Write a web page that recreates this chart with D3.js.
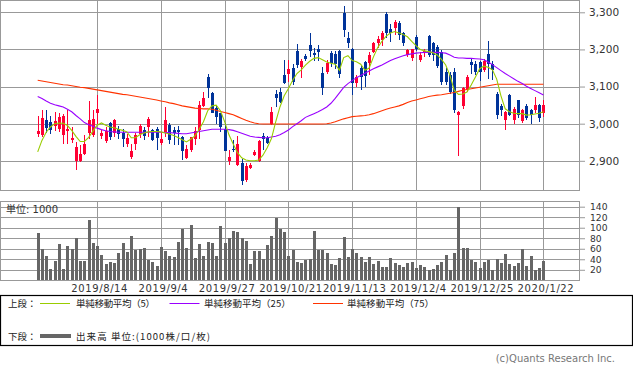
<!DOCTYPE html>
<html><head><meta charset="utf-8">
<script src="https://cdn.jsdelivr.net/npm/d3@7"></script>
<style>
html,body{margin:0;padding:0;background:#fff;}
svg{display:block;}
</style></head><body>
<svg id="c" width="633" height="373"></svg>
<script>
const openP = [
2972,2969,3009,3004,2995,2985,2969,2980,2957,2900,
2900,2918,2975,2969,3029,2966,2954,3002,2975,2987,
2975,2946,2909,2945,2971,2982,2991,2984,2985,2948,
2975,2996,2982,2983,2963,2907,2929,2958,2983,3047,
3126,3082,3041,3028,2987,2899,2933,2889,2895,2847,
2881,2916,2899,2966,2962,2998,3081,3086,3131,3134,
3149,3197,3153,3182,3212,3190,3200,3137,3140,3190,
3188,3195,3297,3230,3200,3110,3149,3167,3163,3194,
3217,3225,3295,3254,3257,3272,3243,3185,3176,3234,
3172,3190,3236,3216,3207,3194,3140,3130,3140,3023,
3047,3090,3167,3162,3165,3144,3189,3162,3081,3047,
3009,3078,3010,3063,3008,3047,3036,3036,3050,3029];
const highP = [
3020,3036,3036,3020,3031,3030,3025,3036,2990,2951,
2942,2969,3060,3036,3076,2983,2990,3004,3012,2993,
2987,2971,2946,2975,3000,2991,3018,2987,2990,2978,
3046,3001,2991,2994,2967,2942,2965,2992,3062,3086,
3134,3086,3050,3030,3001,2929,2956,2967,2905,2893,
2893,2930,2956,2974,2968,3046,3091,3095,3172,3171,
3160,3215,3173,3187,3243,3203,3212,3154,3171,3196,
3195,3198,3317,3248,3205,3130,3158,3170,3192,3221,
3235,3250,3300,3268,3280,3277,3248,3200,3202,3240,
3192,3200,3240,3220,3212,3198,3150,3140,3150,3035,
3098,3131,3176,3168,3170,3175,3223,3170,3085,3052,
3034,3080,3046,3065,3040,3052,3040,3072,3052,3065];
const lowP = [
2964,2964,2975,2972,2980,2978,2946,2946,2948,2875,
2897,2915,2958,2963,3000,2960,2948,2955,2965,2960,
2936,2937,2906,2929,2962,2955,2964,2954,2930,2942,
2965,2945,2943,2943,2902,2904,2925,2942,2960,3046,
3068,3028,2999,2978,2927,2889,2925,2886,2835,2844,
2877,2912,2898,2929,2946,2996,3046,3057,3108,3113,
3105,3150,3124,3168,3180,3170,3170,3077,3135,3152,
3148,3124,3234,3203,3077,3100,3091,3099,3130,3190,
3205,3210,3232,3221,3240,3225,3210,3180,3170,3195,
3165,3180,3180,3170,3150,3105,3105,3080,3030,2914,
3040,3085,3135,3130,3115,3140,3120,3117,3012,3020,
2982,3020,3000,3015,3002,3010,3000,3030,3005,3018];
const closeP = [
2980,3014,2988,2982,3008,3018,3020,2986,2962,2936,
2918,2946,3010,3012,3040,2975,2980,2964,3009,2971,
2959,2962,2927,2969,2993,2966,3013,2957,2962,2959,
3010,2956,2975,2978,2927,2931,2963,2981,3050,3068,
3095,3028,3017,2992,2927,2909,2930,2945,2846,2886,
2888,2925,2952,2958,2949,3032,3068,3059,3110,3146,
3113,3158,3169,3173,3195,3186,3194,3095,3164,3163,
3160,3135,3252,3217,3110,3127,3127,3128,3185,3218,
3227,3243,3243,3243,3275,3240,3218,3198,3200,3200,
3185,3196,3185,3185,3155,3113,3113,3086,3036,3031,
3095,3126,3158,3140,3140,3170,3162,3144,3023,3036,
3032,3023,3040,3023,3036,3016,3023,3050,3014,3050];
const volume = [
90,60,46,22,37,69,22,65,60,80,
37,37,115,71,65,48,31,35,33,52,
71,54,84,58,60,62,39,35,27,63,
56,46,44,73,98,62,105,42,69,46,
73,71,46,103,71,80,94,92,80,75,
31,56,56,40,67,84,118,98,92,46,
58,35,33,39,40,94,58,58,52,31,
29,42,82,44,60,52,44,35,44,31,
37,25,25,42,33,29,25,33,35,23,
29,25,19,21,29,35,48,19,52,140,
62,62,39,35,23,35,39,19,40,33,
50,31,27,33,60,27,46,19,23,37];
const ma5 = [
2924,2955,2977,2991,3000,3002,3001,2995,2982,2966,
2952,2952,2963,2980,2996,3002,2996,2991,2989,2985,
2982,2978,2962,2962,2970,2975,2978,2979,2979,2978,
2975,2972,2968,2963,2957,2951,2958,2967,2985,3005,
3035,3048,3050,3035,3005,2970,2945,2922,2908,2902,
2900,2900,2902,2915,2935,2960,3005,3045,3075,3095,
3117,3135,3145,3158,3168,3176,3178,3172,3166,3163,
3160,3144,3178,3183,3170,3167,3160,3144,3150,3180,
3205,3222,3236,3244,3248,3244,3240,3234,3222,3210,
3200,3196,3194,3191,3185,3173,3158,3130,3090,3079,
3080,3085,3104,3126,3148,3155,3152,3145,3120,3075,
3040,3032,3028,3027,3027,3023,3024,3026,3028,3032];
const ma25 = [
3073,3068,3061,3055,3051,3048,3045,3039,3032,3022,
3013,3003,2997,2993,2988,2984,2981,2979,2978,2977,
2977,2977,2977,2977,2977,2977,2977,2977,2977,2977,
2976,2976,2975,2974,2973,2973,2975,2977,2979,2981,
2983,2985,2985,2985,2985,2984,2982,2978,2974,2970,
2966,2964,2963,2962,2962,2964,2966,2970,2976,2983,
2992,3000,3008,3017,3022,3027,3032,3038,3045,3055,
3068,3083,3098,3108,3116,3124,3130,3136,3142,3148,
3153,3158,3164,3170,3175,3179,3183,3186,3188,3190,
3191,3192,3192,3192,3192,3191,3190,3185,3179,3177,
3177,3176,3176,3175,3174,3172,3166,3159,3151,3143,
3135,3128,3121,3114,3108,3101,3095,3089,3083,3077];
const ma75 = [
3117,3115,3113,3111,3109,3107,3105,3104,3102,3100,
3098,3097,3095,3093,3091,3089,3087,3085,3083,3081,
3079,3078,3076,3074,3072,3070,3068,3066,3064,3061,
3059,3056,3054,3051,3048,3046,3044,3042,3041,3040,
3040,3039,3036,3033,3030,3027,3024,3019,3014,3009,
3005,3002,3000,2999,2999,2999,2999,2999,2999,2999,
2999,2999,2999,2999,2999,2999,2999,2999,3000,3002,
3005,3009,3013,3016,3019,3020,3021,3022,3024,3027,
3031,3035,3039,3042,3045,3048,3052,3057,3061,3064,
3067,3070,3073,3075,3077,3078,3080,3082,3084,3087,
3090,3092,3094,3096,3098,3100,3102,3104,3106,3106,
3106,3106,3106,3106,3106,3106,3106,3106,3106,3106];
const tickIdx = [14,29,44,59,74,89,104,119];
const tickLabels = ["2019/8/14","2019/9/4","2019/9/27","2019/10/21","2019/11/13","2019/12/4","2019/12/25","2020/1/22"];
const priceTicks = [2900,3000,3100,3200,3300];
const volTicks = [20,40,60,80,100,120,140];
const maNames = ["単純移動平均（5）","単純移動平均（25）","単純移動平均（75）"];
const maColors = ["#99cc00","#9a00ff","#ff3300"];

const UP = "#ff0033", DOWN = "#003399", GRID = "#999";
const svg = d3.select("#c");
const x = d3.scaleLinear().domain([0,119]).range([37.7,543.45]);
const y = d3.scaleLinear().domain([2900,3300]).range([160.8,12.3]);
const yv = d3.scaleLinear().domain([0,140]).range([280.3,206.7]);
const px = v => Math.round(v) + 0.5;

// ---------- top panel frame + grid
const topG = svg.append("g");
topG.append("rect").attr("x",0.5).attr("y",0.5).attr("width",579).attr("height",190)
  .attr("fill","none").attr("stroke",GRID);
topG.selectAll("line.h").data(priceTicks).join("line")
  .attr("x1",0).attr("x2",580).attr("y1",d=>px(y(d))).attr("y2",d=>px(y(d)))
  .attr("stroke",GRID).attr("shape-rendering","crispEdges");
topG.selectAll("line.v").data(tickIdx).join("line")
  .attr("x1",d=>px(x(d))).attr("x2",d=>px(x(d))).attr("y1",0).attr("y2",190)
  .attr("stroke",GRID).attr("shape-rendering","crispEdges");

// price axis
const pAxis = svg.append("g").attr("transform","translate(580,0)")
  .call(d3.axisRight(y).tickValues(priceTicks).tickFormat(d3.format(",")).tickSize(5).tickPadding(4));
pAxis.select(".domain").remove();
pAxis.selectAll("line").attr("stroke",GRID);
pAxis.selectAll("text").attr("font-family","DejaVu Sans").attr("font-size",10.5).attr("fill","#333");

// candles
const cg = svg.append("g").attr("shape-rendering","crispEdges");
const idx = d3.range(closeP.length);
cg.selectAll("line").data(idx).join("line")
  .attr("x1",i=>px(x(i))).attr("x2",i=>px(x(i)))
  .attr("y1",i=>y(highP[i])).attr("y2",i=>y(lowP[i]))
  .attr("stroke",i=>closeP[i]>=openP[i]?UP:DOWN).attr("stroke-width",1);
cg.selectAll("rect").data(idx).join("rect")
  .attr("x",i=>Math.round(x(i))-1.5).attr("width",3.6)
  .attr("y",i=>y(Math.max(openP[i],closeP[i])))
  .attr("height",i=>Math.max(1,Math.abs(y(openP[i])-y(closeP[i]))))
  .attr("fill",i=>closeP[i]>=openP[i]?UP:DOWN);

// moving averages
const line = d3.line().x((d,i)=>x(i)).y(d=>y(d));
[[ma75,maColors[2]],[ma25,maColors[1]],[ma5,maColors[0]]].forEach(([s,c])=>{
  svg.append("path").datum(s).attr("d",line).attr("fill","none")
    .attr("stroke",c).attr("stroke-width",1.1);
});

// ---------- volume panel
const vg = svg.append("g");
vg.append("rect").attr("x",0.5).attr("y",201.5).attr("width",579).attr("height",79)
  .attr("fill","none").attr("stroke",GRID);
vg.selectAll("line.h").data(volTicks).join("line")
  .attr("x1",0).attr("x2",580).attr("y1",d=>px(yv(d))).attr("y2",d=>px(yv(d)))
  .attr("stroke",GRID).attr("shape-rendering","crispEdges");
vg.selectAll("line.v").data(tickIdx).join("line")
  .attr("x1",d=>px(x(d))).attr("x2",d=>px(x(d))).attr("y1",202).attr("y2",280)
  .attr("stroke",GRID).attr("shape-rendering","crispEdges");
vg.append("g").attr("shape-rendering","crispEdges").selectAll("rect").data(idx).join("rect")
  .attr("x",i=>Math.round(x(i))-1.5).attr("width",3)
  .attr("y",i=>yv(volume[i])).attr("height",i=>yv(0)-yv(volume[i]))
  .attr("fill","#666");
const vAxis = svg.append("g").attr("transform","translate(580,0)")
  .call(d3.axisRight(yv).tickValues(volTicks).tickSize(5).tickPadding(5));
vAxis.select(".domain").remove();
vAxis.selectAll("line").attr("stroke",GRID);
vAxis.selectAll("text").attr("font-family","DejaVu Sans").attr("font-size",9.2).attr("fill","#333");
svg.append("text").attr("x",6).attr("y",213).attr("font-family","DejaVu Sans, Noto Sans CJK JP")
  .attr("font-size",10).attr("fill","#333").text("単位: 1000");

// x axis labels
const xAxis = svg.append("g").attr("transform","translate(0,280)")
  .call(d3.axisBottom(x).tickValues(tickIdx).tickFormat((d,i)=>tickLabels[i]).tickSize(0).tickPadding(5));
xAxis.select(".domain").remove();
xAxis.selectAll("text").attr("font-family","DejaVu Sans").attr("font-size",10)
  .attr("letter-spacing","0.6px").attr("dx",2).attr("fill","#333");

// ---------- legend
const lg = svg.append("g");
lg.append("rect").attr("x",0.5).attr("y",295.5).attr("width",632).attr("height",50)
  .attr("fill","none").attr("stroke","#000").attr("stroke-width",1.2);
const lf = "Noto Sans CJK JP";
lg.append("text").attr("x",8).attr("y",307).attr("font-family",lf).attr("font-size",9.5).attr("fill","#222").text("上段：");
const lineX = [40,169.5,313], textX = [76,204,347], textW = [79,86.7,87];
maNames.forEach((n,k)=>{
  lg.append("line").attr("x1",lineX[k]).attr("x2",lineX[k]+30).attr("y1",303.5).attr("y2",303.5)
    .attr("stroke",maColors[k]).attr("stroke-width",1);
  lg.append("text").attr("x",textX[k]).attr("y",307).attr("font-family",lf).attr("font-size",9.5)
    .attr("fill","#222").attr("textLength",textW[k]).attr("lengthAdjust","spacing").text(n);
});
lg.append("text").attr("x",8).attr("y",339.5).attr("font-family",lf).attr("font-size",9.5).attr("fill","#222").text("下段：");
lg.append("line").attr("x1",40).attr("x2",71).attr("y1",336).attr("y2",336)
  .attr("stroke","#666").attr("stroke-width",4);
lg.append("text").attr("x",76).attr("y",339.5).attr("font-family",lf).attr("font-size",9.5)
  .attr("fill","#222").attr("textLength",134).attr("lengthAdjust","spacing").text("出来高 単位:(1000株/口/枚)");

svg.append("text").attr("x",615).attr("y",362).attr("text-anchor","end")
  .attr("font-family","DejaVu Sans").attr("font-size",10).attr("fill","#777")
  .text("(c)Quants Research Inc.");
</script>
</body></html>
